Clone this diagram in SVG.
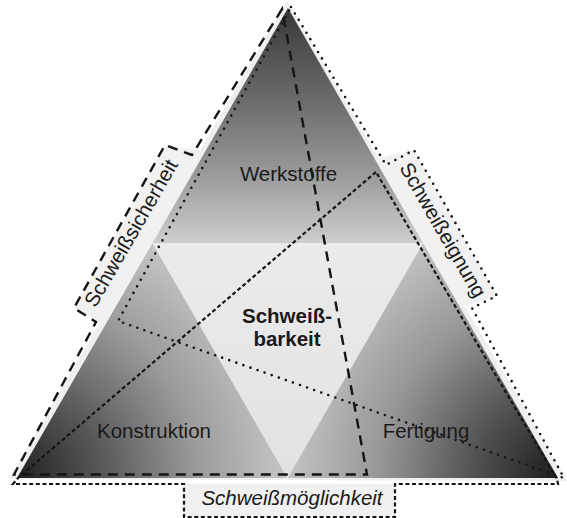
<svg xmlns="http://www.w3.org/2000/svg" width="567" height="518" viewBox="0 0 567 518">
<style>
  .lbl { font-family: "Liberation Sans", Arial, sans-serif; font-size: 20.5px; fill: #1a1a1a; }
  .bold { font-weight: bold; }
  .ital { font-style: italic; }
  .box { fill: #f1f1f1; }
  .dash { fill: none; stroke: #151515; stroke-width: 2.4; stroke-dasharray: 10 7; stroke-linejoin: miter; }
  .dot { fill: none; stroke: #151515; stroke-width: 2.6; stroke-dasharray: 0 7.5; stroke-linecap: round; }
  .fine { fill: none; stroke: #151515; stroke-width: 2.2; stroke-dasharray: 4 2.6; }
</style>
<defs>
  <linearGradient id="gTop" x1="0" y1="8" x2="0" y2="243" gradientUnits="userSpaceOnUse">
    <stop offset="0" stop-color="#383838"/>
    <stop offset="0.4" stop-color="#6c6c6c"/>
    <stop offset="0.72" stop-color="#9c9c9c"/>
    <stop offset="0.9" stop-color="#bcbcbc"/>
    <stop offset="1" stop-color="#cdcdcd"/>
  </linearGradient>
  <radialGradient id="gLeft" cx="17" cy="478" r="275" gradientUnits="userSpaceOnUse">
    <stop offset="0" stop-color="#202020"/>
    <stop offset="0.3" stop-color="#565656"/>
    <stop offset="0.65" stop-color="#9a9a9a"/>
    <stop offset="1" stop-color="#c8c8c8"/>
  </radialGradient>
  <radialGradient id="gRight" cx="558" cy="478" r="275" gradientUnits="userSpaceOnUse">
    <stop offset="0" stop-color="#1c1c1c"/>
    <stop offset="0.3" stop-color="#505050"/>
    <stop offset="0.65" stop-color="#979797"/>
    <stop offset="1" stop-color="#c6c6c6"/>
  </radialGradient>
  <linearGradient id="gMid" x1="0" y1="243" x2="0" y2="478" gradientUnits="userSpaceOnUse">
    <stop offset="0" stop-color="#ebebeb"/>
    <stop offset="1" stop-color="#e2e2e2"/>
  </linearGradient>
</defs>

<!-- light halo and label boxes -->
<g id="backdrop">
  <polygon points="287,1 9,479 567,481" fill="#efefef"/>
  <polygon class="box" points="165,145 74,308 108,328 210,152"/>
  <polygon class="box" points="414,150 497,296 455,310 370,160"/>
  <rect class="box" x="184" y="484" width="211" height="33"/>
</g>

<g id="werkstoffe">
  <polygon points="288,8 152.5,243 423,243" fill="url(#gTop)"/>
  <text class="lbl" x="288.5" y="181" text-anchor="middle">Werkstoffe</text>
</g>
<g id="konstruktion">
  <polygon points="152.5,243 17,478 287.5,478" fill="url(#gLeft)"/>
  <text class="lbl" x="154" y="438" text-anchor="middle">Konstruktion</text>
</g>
<g id="fertigung">
  <polygon points="423,243 287.5,478 558,478" fill="url(#gRight)"/>
  <text class="lbl" x="426" y="438" text-anchor="middle">Fertigung</text>
</g>
<g id="schweissbarkeit">
  <polygon points="152.5,243 423,243 287.5,478" fill="url(#gMid)"/>
  <text class="lbl bold" x="287" y="323" text-anchor="middle">Schweiß-</text>
  <text class="lbl bold" x="287" y="346" text-anchor="middle">barkeit</text>
</g>

<g id="connectors">
  <path id="sicherheit-line" class="dash" d="M282,9 L192,155 L165,145 L74,308 L96,322 L14,474.5 L367,474.5 Z"/>
  <path id="eignung-line" class="dot" d="M291,7 L386,165 L414,150 L497,296 L472,308 L564,478 L118,321 Z"/>
  <path id="moeglichkeit-line" class="fine" d="M376,172 L18,478 L13,484 L184,484 L184,517 L395,517 L395,484 L558,484 L557,479 Z"/>
</g>

<g id="label-sicherheit">
  <text class="lbl" transform="translate(131,233) rotate(-60)" x="0" y="7" text-anchor="middle">Schweißsicherheit</text>
</g>
<g id="label-eignung">
  <text class="lbl" transform="translate(443,230) rotate(60)" x="0" y="7" text-anchor="middle">Schweißeignung</text>
</g>
<g id="label-moeglichkeit">
  <text class="lbl ital" x="292" y="505" text-anchor="middle">Schweißmöglichkeit</text>
</g>
</svg>
